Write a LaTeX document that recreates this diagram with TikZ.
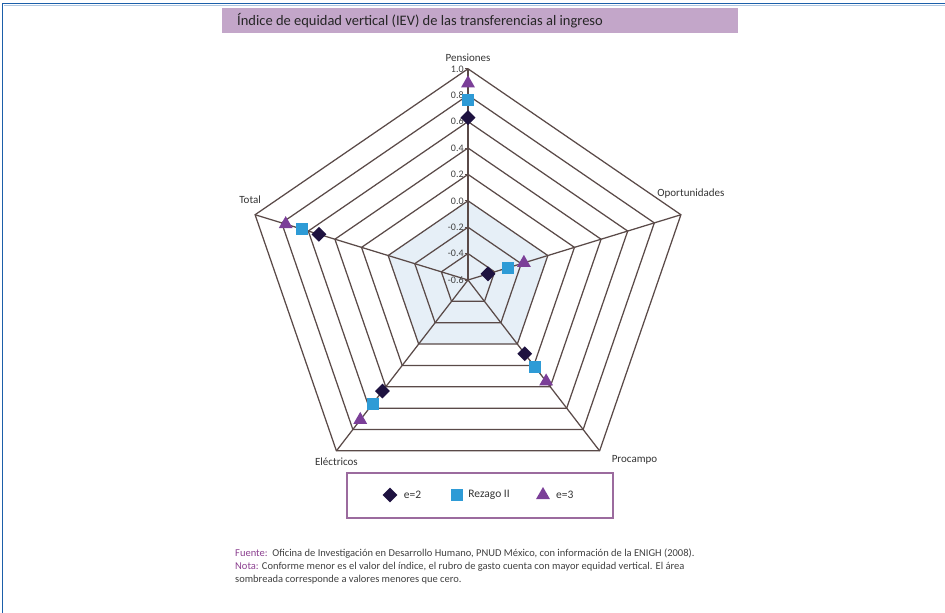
\documentclass[tikz,border=0pt]{standalone}
\usepackage{fontspec}
\setmainfont{Carlito}
\usepackage{xcolor}
\usepackage{tikz}
\usetikzlibrary{positioning, shapes.geometric, calc}

\definecolor{framebl}{HTML}{1B5FAA}
\definecolor{barlila}{HTML}{C3A6C9}
\definecolor{gridgr}{HTML}{5A4A48}
\definecolor{shadebl}{HTML}{E6EFF7}
\definecolor{serdiam}{HTML}{1E1240}
\definecolor{sersq}{HTML}{2E9BD6}
\definecolor{sertri}{HTML}{7B3F98}
\definecolor{legbord}{HTML}{9B6B9E}
\definecolor{notepur}{HTML}{8B3F8F}

\tikzset{
  gridline/.style={draw=gridgr, line width=1.25pt},
  axlbl/.style={font=\fontsize{11}{13}\selectfont, text=black!80, inner sep=1pt},
  leglbl/.style={font=\fontsize{11.5}{13}\selectfont, text=black!80, inner sep=1pt},
  ticklbl/.style={font=\fontsize{10}{11}\selectfont, text=black!75, anchor=east, inner sep=1pt},
  mkdiam/.style={diamond, fill=serdiam, minimum size=15pt, inner sep=0pt},
  mksq/.style={rectangle, fill=sersq, minimum size=12pt, inner sep=0pt},
  mktri/.style={regular polygon, regular polygon sides=3, fill=sertri, minimum size=16pt, inner sep=0pt},
  notetxt/.style={font=\fontsize{10.5}{12}\selectfont, text=black!75, inner sep=0pt, anchor=west},
}

\begin{document}
\begin{tikzpicture}[x=1pt, y=-1pt]
\useasboundingbox (0,0) rectangle (945,613);
% frame
\draw[framebl, line width=1.6pt] (2.5,613) -- (2.5,3.5) -- (945,3.5);
\draw[framebl!35, line width=0.8pt] (3.5,5.2) -- (945,5.2);

% title bar
\node[fill=barlila, minimum width=516pt, minimum height=25pt, anchor=north west, inner sep=0pt] (titlebar) at (222,8) {};
\node[right=15pt of titlebar.west, anchor=west, font=\fontsize{14.5}{16}\selectfont, text=black!85, inner sep=0pt] (title) {Índice de equidad vertical (IEV) de las transferencias al ingreso};

% radar
\coordinate (ctr) at (468,280);
\begin{scope}[shift={(ctr)}, xscale=1.06, yscale=-1]
  % area below zero
  \fill[shadebl] (90:79.2) -- (162:79.2) -- (234:79.2) -- (306:79.2) -- (18:79.2) -- cycle;
  \foreach \i in {1,...,8}
    \draw[gridline] (90:26.4*\i) -- (162:26.4*\i) -- (234:26.4*\i) -- (306:26.4*\i) -- (18:26.4*\i) -- cycle;
  \foreach \a in {90,162,234,306,18}
    \draw[gridline] (0,0) -- (\a:211.2);
  \coordinate (vpen) at (90:211.2);
  \coordinate (vtot) at (162:211.2);
  \coordinate (vele) at (234:211.2);
  \coordinate (vpro) at (306:211.2);
  \coordinate (vopo) at (18:211.2);
  % scale on the Pensiones axis
  \foreach \i/\v in {0/-0.6,1/-0.4,2/-0.2,3/0.0,4/0.2,5/0.4,6/0.6,7/0.8,8/1.0} {
    \draw[gridline, line width=0.8pt] (-3,26.4*\i) -- (0,26.4*\i);
    \node[ticklbl] (tk\i) at (-3,26.4*\i) {\v};
  }
  % series
  \foreach \nm/\a/\vd/\vs/\vt in {pen/90/0.63/0.76/0.89, tot/162/0.52/0.65/0.77, ele/234/0.44/0.56/0.71, pro/306/0.09/0.21/0.35, opo/18/-0.45/-0.30/-0.18} {
    \node[mkdiam] (\nm-e2) at (\a:{(\vd+0.6)*132}) {};
    \node[mksq] (\nm-rz) at (\a:{(\vs+0.6)*132}) {};
    \node[mktri] (\nm-e3) at (\a:{(\vt+0.6)*132}) {};
  }
\end{scope}

% axis names
\node[axlbl, above=6pt of vpen] (lpen) {Pensiones};
\node[axlbl, above=10pt of vtot, xshift=-5pt] (ltot) {Total};
\node[axlbl, above=15pt of vopo, xshift=10pt] (lopo) {Oportunidades};
\node[axlbl, right=11pt of vpro, yshift=-9pt] (lpro) {Procampo};
\node[axlbl, below=6pt of vele] (lele) {Eléctricos};

% legend
\node[draw=legbord, line width=1.4pt, minimum width=266pt, minimum height=45pt, inner sep=0pt] (legend) at (480,495.5) {};
\node[mkdiam] (lg-e2) at (390,495) {};
\node[leglbl, right=5pt of lg-e2] (lgt-e2) {e=2};
\node[mksq] (lg-rz) at (457,495) {};
\node[leglbl, right=4pt of lg-rz] (lgt-rz) {Rezago II};
\node[mktri] (lg-e3) at (543,495) {};
\node[leglbl, right=7pt of lg-e3] (lgt-e3) {e=3};

% notes
\node[notetxt] (fuente) at (235,554) {\textcolor{notepur}{Fuente:}\ \ Oficina de Investigación en Desarrollo Humano, PNUD México, con información de la ENIGH (2008).};
\node[notetxt] (nota) at (235,567) {\textcolor{notepur}{Nota:} Conforme menor es el valor del índice, el rubro de gasto cuenta con mayor equidad vertical. El área};
\node[notetxt] (nota2) at (235,580) {sombreada corresponde a valores menores que cero.};
\end{tikzpicture}
\end{document}
